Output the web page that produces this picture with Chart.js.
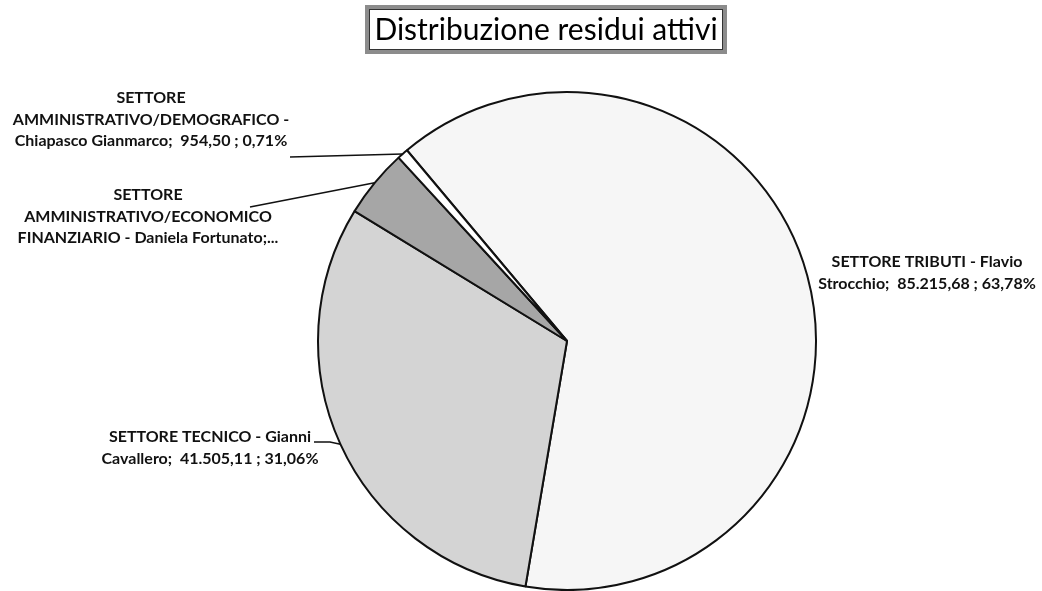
<!DOCTYPE html>
<html>
<head>
<meta charset="utf-8">
<script src="https://cdn.jsdelivr.net/npm/chart.js@4/dist/chart.umd.min.js"></script>
<style>
  html, body { margin: 0; padding: 0; background: #fff; }
  #wrap { width: 1042px; height: 591px; }
</style>
</head>
<body>
<div id="wrap"><canvas id="pie-chart"></canvas></div>
<script>
// data
const chartTitle = 'Distribuzione residui attivi';
const sectors = [
  'SETTORE TRIBUTI - Flavio Strocchio',
  'SETTORE TECNICO - Gianni Cavallero',
  'SETTORE AMMINISTRATIVO/ECONOMICO FINANZIARIO - Daniela Fortunato',
  'SETTORE AMMINISTRATIVO/DEMOGRAFICO - Chiapasco Gianmarco'
];
const residui = [85215.68, 41505.11, 5933.50, 954.50];

// label text, wrapped the way the original shows it
const labelHead = [
  ['SETTORE TRIBUTI - Flavio'],
  ['SETTORE TECNICO - Gianni'],
  ['SETTORE', 'AMMINISTRATIVO/ECONOMICO'],
  ['SETTORE', 'AMMINISTRATIVO/DEMOGRAFICO -']
];
const labelTail = ['Strocchio;', 'Cavallero;', 'FINANZIARIO - Daniela Fortunato;...', 'Chiapasco Gianmarco;'];
const showValue = [true, true, false, true];

const sliceColors = ['#f6f6f6', '#d4d4d4', '#a6a6a6', '#ffffff'];

// label placement: centre x, first line y, leader anchor (null = no line)
const labelPos = [
  { x: 927, y: 262, anchor: null },
  { x: 210, y: 437, anchor: [[314, 442], [330, 442]] },
  { x: 148, y: 195, anchor: [[250, 207]] },
  { x: 151, y: 98, anchor: [[290, 157]] }
];

const total = residui.reduce((a, b) => a + b, 0);
const fmtNum = v => v.toLocaleString('it-IT', { minimumFractionDigits: 2, maximumFractionDigits: 2 });
const fmtPct = v => (v / total * 100).toFixed(2).replace('.', ',') + '%';

const labelFont = 'bold 16px Lato, "Open Sans", sans-serif';
const lineH = 21.5;

const outerLabels = {
  id: 'outerLabels',
  afterDraw(chart) {
    const ctx = chart.ctx;
    const arcs = chart.getDatasetMeta(0).data;
    ctx.save();

    // title with framed box
    ctx.font = '30px Lato, "Open Sans", sans-serif';
    ctx.fillStyle = '#000';
    ctx.textAlign = 'center';
    ctx.textBaseline = 'middle';
    ctx.fillText(chartTitle, 546, 30);
    ctx.strokeStyle = '#8c8c8c';
    ctx.lineWidth = 4;
    ctx.strokeRect(367, 7, 358, 45);
    ctx.strokeStyle = '#333';
    ctx.lineWidth = 1;
    ctx.strokeRect(369.5, 9.5, 353, 40);

    arcs.forEach((arc, i) => {
      const p = arc.getProps(['x', 'y', 'startAngle', 'endAngle', 'outerRadius'], true);
      const mid = (p.startAngle + p.endAngle) / 2;
      const ex = p.x + Math.cos(mid) * p.outerRadius;
      const ey = p.y + Math.sin(mid) * p.outerRadius;
      const pos = labelPos[i];

      if (pos.anchor) {
        ctx.beginPath();
        ctx.strokeStyle = '#111';
        ctx.lineWidth = 1.5;
        ctx.moveTo(pos.anchor[0][0], pos.anchor[0][1]);
        pos.anchor.slice(1).forEach(pt => ctx.lineTo(pt[0], pt[1]));
        ctx.lineTo(ex, ey);
        ctx.stroke();
      }

      const lines = labelHead[i].slice();
      let tail = labelTail[i];
      if (showValue[i]) tail += '  ' + fmtNum(residui[i]) + ' ; ' + fmtPct(residui[i]);
      lines.push(tail);

      ctx.font = labelFont;
      ctx.fillStyle = '#111';
      ctx.textAlign = 'center';
      ctx.textBaseline = 'middle';
      lines.forEach((ln, k) => ctx.fillText(ln, pos.x, pos.y + k * lineH));
    });
    ctx.restore();
  }
};

new Chart(document.getElementById('pie-chart').getContext('2d'), {
  type: 'pie',
  data: {
    labels: sectors,
    datasets: [{
      data: residui,
      backgroundColor: sliceColors,
      borderColor: '#111',
      borderWidth: 2
    }]
  },
  options: {
    responsive: true,
    maintainAspectRatio: false,
    animation: false,
    rotation: -40,
    layout: { padding: { top: 91, bottom: 0, left: 200, right: 108 } },
    plugins: {
      legend: { display: false },
      title: { display: false },
      tooltip: { enabled: false }
    }
  },
  plugins: [outerLabels]
});
</script>
</body>
</html>
